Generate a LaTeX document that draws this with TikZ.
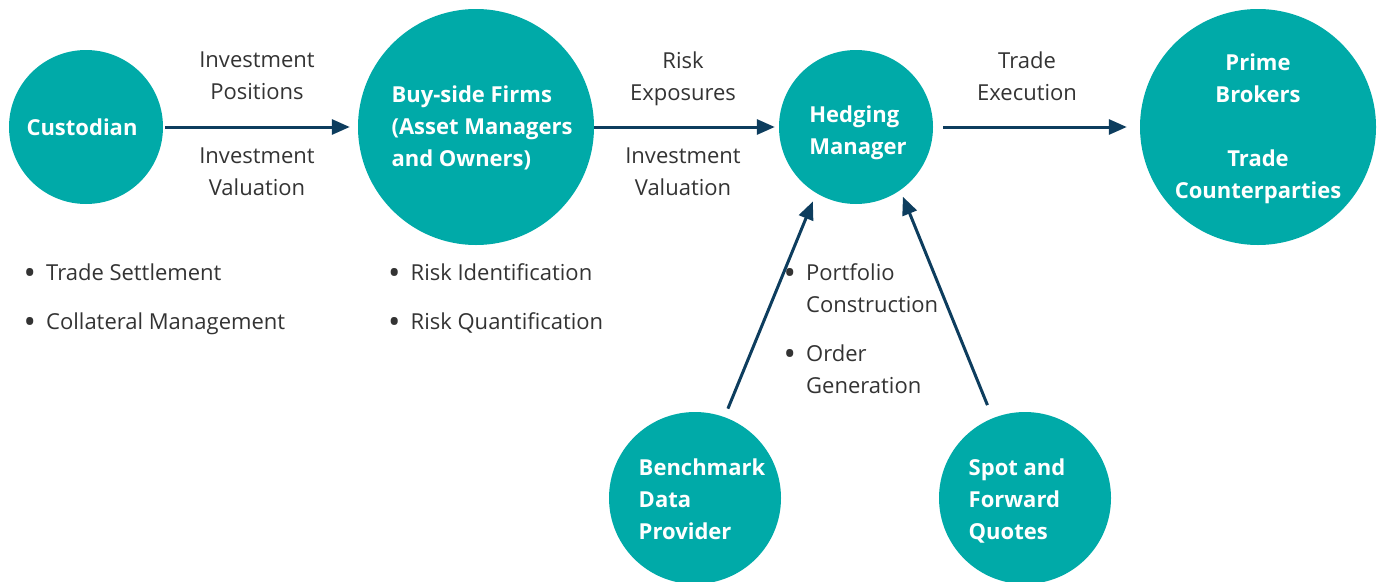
\documentclass[tikz,border=0pt]{standalone}
\usepackage{fontspec}
\usepackage{graphicx}
\setmainfont{Open Sans}
\usetikzlibrary{arrows.meta}
\definecolor{teal1}{HTML}{00AAA8}
\definecolor{navy}{HTML}{0D3D5E}
\definecolor{txt}{HTML}{333333}
\newcommand{\blt}{\makebox[22.5pt][l]{\raisebox{-4pt}{\scalebox{1.5}{\textbullet}}}}
\begin{document}
\begin{tikzpicture}[x=1pt,y=-1pt,
 disk/.style={circle,fill=teal1,inner sep=0,minimum size=#1},
 ctext/.style={text=white,font=\fontsize{22}{32}\selectfont\bfseries,inner sep=0},
 lbl/.style={text=txt,font=\fontsize{22}{32}\selectfont,align=center,inner sep=0},
 blist/.style={text=txt,font=\fontsize{22}{32}\selectfont,align=left,inner sep=0,anchor=base west},
 flow/.style={draw=navy,line width=3pt,-{Triangle[length=18pt,width=15pt]}}]
\useasboundingbox (0,0) rectangle (1384,581);
% circles
\node[disk=154pt] (cust) at (86,127) {};
\node[disk=236pt] (buy) at (476,127) {};
\node[disk=154pt] (hedge) at (856,127) {};
\node[disk=236pt] (prime) at (1258,127) {};
\node[disk=172pt] (bench) at (695,498) {};
\node[disk=172pt] (spot) at (1025,498) {};
% circle texts
\node[ctext] (custT) at (82,127) {Custodian};
\node[ctext,align=left] (buyT) at (482,128) {Buy-side Firms\\(Asset Managers\\and Owners)};
\node[ctext,align=left] (hedgeT) at (858,133) {Hedging\\Manager};
\node[ctext,align=center] (primeT) at (1258,129) {Prime\\Brokers\\[32pt]Trade\\Counterparties};
\node[ctext,align=left] (benchT) at (702,499) {Benchmark\\Data\\Provider};
\node[ctext,align=left] (spotT) at (1017,501) {Spot and\\Forward\\Quotes};
% flow labels
\node[lbl] (l1) at (257,76) {Investment\\Positions};
\node[lbl] (l2) at (257,172) {Investment\\Valuation};
\node[lbl] (l3) at (683,79) {Risk\\Exposures};
\node[lbl] (l4) at (683,172) {Investment\\Valuation};
\node[lbl] (l5) at (1027,76) {Trade\\Execution};
% bullet lists
\node[blist] (b1) at (23.5,280) {\blt Trade Settlement};
\node[blist] (b2) at (23.5,329) {\blt Collateral Management};
\node[blist] (b3) at (388,280) {\blt Risk Identification};
\node[blist] (b4) at (388,329) {\blt Risk Quantification};
\node[blist] (b5) at (783.5,312) {\blt Portfolio\\\hspace*{22.5pt}Construction};
\node[blist] (b6) at (783.5,393) {\blt Order\\\hspace*{22.5pt}Generation};
% connectors
\draw[flow,shorten <=2pt,shorten >=8pt] (cust) -- (buy);
\draw[flow,shorten <=0pt,shorten >=4pt] (buy) -- (hedge);
\draw[flow,shorten <=10pt,shorten >=13pt] (hedge) -- (prime);
\draw[flow,shorten <=9pt,shorten >=9pt] (bench.70) -- (hedge.239);
\draw[flow,shorten <=14pt,shorten >=7pt] (spot.112) -- (hedge.305);
\end{tikzpicture}
\end{document}
